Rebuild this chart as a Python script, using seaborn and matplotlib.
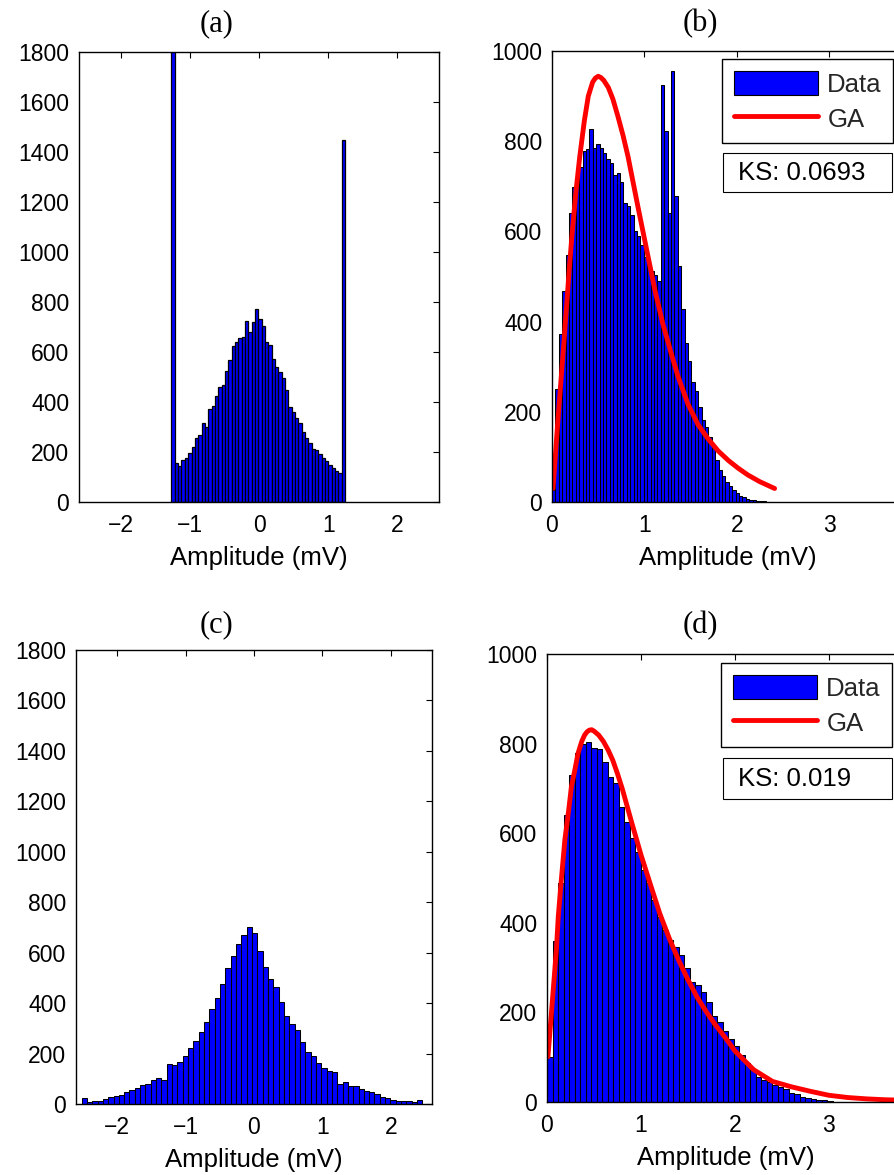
import numpy as np
import pandas as pd
import matplotlib
matplotlib.use("Agg")
import matplotlib.pyplot as plt
from matplotlib.patches import Rectangle, Patch
from matplotlib.lines import Line2D
import seaborn as sns

# ---------------- data ----------------
panel_titles = ["(a)", "(b)", "(c)", "(d)"]
x_label = "Amplitude (mV)"
legend_labels = ["Data", "GA"]

# (a) clipped signal histogram
a_first_center = -1.24
a_bin_width = 0.0482
a_counts = [1850, 155, 145, 170, 176, 195, 222, 257, 268, 318, 300, 372, 385,
            425, 460, 470, 525, 570, 625, 640, 658, 662, 724, 681, 721, 772,
            732, 705, 640, 628, 572, 540, 521, 495, 448, 380, 361, 337, 317,
            281, 257, 237, 212, 208, 191, 175, 165, 150, 138, 125, 115, 1450]
a_xticks = [-2, -1, 0, 1, 2]

# (b) amplitude histogram + GA fit
b_first_center = 0.018
b_bin_width = 0.0368
b_counts = [27, 250, 372, 468, 548, 640, 699, 715, 743, 779, 782, 827, 786,
            794, 784, 773, 760, 752, 725, 730, 710, 664, 657, 636, 600, 590,
            569, 544, 528, 512, 503, 491, 924, 822, 640, 956, 679, 523, 427,
            353, 313, 267, 246, 210, 182, 167, 145, 119, 93, 72, 58, 45, 35,
            27, 19, 13, 10, 7, 5, 4, 3, 2, 2, 1, 1]
b_fit_x = [0.011, 0.06, 0.12, 0.16, 0.19, 0.22, 0.26, 0.30, 0.35, 0.393,
           0.44, 0.47, 0.50, 0.53, 0.56, 0.61, 0.66, 0.715, 0.77, 0.823, 0.93,
           1.04, 1.116, 1.20, 1.297, 1.365, 1.47, 1.58, 1.69, 1.80, 1.91,
           2.015, 2.12, 2.25, 2.41]
b_fit_y = [30, 170, 330, 440, 525, 600, 690, 765, 845, 900, 931, 940, 944,
           941, 935, 919, 893, 854, 812, 766, 655, 544, 468, 395, 325, 278,
           218, 172, 140, 113, 92, 75, 60, 45, 30]
b_ks = "KS: 0.0693"

# (c) signal histogram
c_first_center = -2.48
c_bin_width = 0.0778
c_counts = [22, 9, 12, 13, 19, 26, 32, 36, 46, 56, 62, 75, 79, 95, 102, 95,
            157, 155, 168, 192, 223, 250, 287, 326, 375, 422, 474, 541, 587,
            633, 669, 700, 677, 607, 545, 497, 465, 403, 348, 319, 292, 245,
            205, 190, 164, 141, 131, 127, 78, 86, 71, 70, 61, 53, 46, 38, 26,
            22, 16, 13, 12, 11, 7, 17]

# (d) amplitude histogram + GA fit
d_first_center = 0.03
d_bin_width = 0.0585
d_counts = [101, 360, 488, 640, 730, 780, 800, 804, 790, 787, 760, 726, 711,
            659, 626, 589, 558, 518, 488, 451, 414, 384, 361, 345, 328, 298,
            268, 261, 246, 224, 193, 178, 158, 140, 125, 104, 87, 73, 56, 49,
            44, 39, 33, 28, 20, 17, 12, 8, 7, 5, 4, 3]
d_fit_x = [0.01, 0.04, 0.07, 0.10, 0.12, 0.15, 0.19, 0.23, 0.26, 0.30, 0.33,
           0.37, 0.40, 0.425, 0.45, 0.475, 0.50, 0.55, 0.60, 0.65, 0.70, 0.75,
           0.80, 0.90, 1.00, 1.10, 1.20, 1.30, 1.40, 1.50, 1.60, 1.70, 1.80,
           1.90, 2.00, 2.20, 2.40, 2.60, 2.80, 3.00, 3.20, 3.40, 3.60, 3.80]
d_fit_y = [101, 180, 260, 340, 414, 490, 585, 650, 704, 745, 778, 805, 819,
           826, 830, 831, 828, 819, 805, 786, 763, 733, 700, 625, 552, 486,
           421, 366, 317, 273, 233, 200, 170, 143, 114, 72, 46, 34, 24, 15,
           10, 7, 5, 4]
d_ks = "KS: 0.019"

# ---------------- style ----------------
sns.set_theme(style="white")
plt.rcParams['font.family'] = ['Liberation Sans', 'DejaVu Sans']
BAR_BLUE = (0.0, 0.0, 1.0)
FIT_RED = (1.0, 0.0, 0.0)
TICK_FS = 16.5
LABEL_FS = 18.5

W, H = 895, 1175
fig = plt.figure(figsize=(W / 100, H / 100), dpi=100)
fig.patch.set_facecolor('white')


def px_axes(left, top, right, bottom):
    return fig.add_axes([left / W, 1 - bottom / H, (right - left) / W, (bottom - top) / H])


def draw_hist(ax, first_center, width, counts, lw=0.75):
    counts = np.asarray(counts, dtype=float)
    centers = first_center + width * np.arange(len(counts))
    lo = centers[0] - width / 2
    hi = centers[-1] + width / 2
    df = pd.DataFrame({"amp": centers, "n": counts})
    sns.histplot(data=df, x="amp", weights="n", binwidth=width,
                 binrange=(lo, hi), common_bins=False, ax=ax,
                 color=BAR_BLUE, edgecolor='black', linewidth=lw, alpha=1.0,
                 stat='count')


def style_axes(ax, xlim, xticks, ylim, yticks):
    ax.set_xlim(*xlim)
    ax.set_ylim(*ylim)
    ax.set_xticks(xticks)
    ax.set_yticks(yticks)
    ax.set_xticklabels([str(t).replace('-', '\u2212') for t in xticks])
    ax.set_yticklabels([str(t) for t in yticks])
    ax.tick_params(direction='in', top=True, right=True, length=4, width=0.8,
                   labelsize=TICK_FS, colors='black', pad=7)
    ax.tick_params(axis='x', pad=9)
    for s in ax.spines.values():
        s.set_visible(True)
        s.set_color('black')
        s.set_linewidth(1.0)
    ax.set_ylabel('')
    ax.set_xlabel(x_label, fontsize=LABEL_FS, labelpad=6, color='black')
    ax.set_facecolor('white')
    ax.grid(False)


def add_legend_and_ks(ax, left, top, ks_top, ks_bottom, ks_text):
    handles = [Patch(facecolor=BAR_BLUE, edgecolor='black', linewidth=0.8),
               Line2D([0], [0], color=FIT_RED, lw=3.5)]
    leg = ax.legend(handles, legend_labels, loc='upper left',
                    bbox_to_anchor=(left / W, 1 - top / H),
                    bbox_transform=fig.transFigure, borderaxespad=0,
                    fontsize=LABEL_FS, frameon=True, fancybox=False,
                    handlelength=3.3, handleheight=1.1, handletextpad=0.35,
                    labelspacing=0.35, borderpad=0.45)
    fr = leg.get_frame()
    fr.set_edgecolor('black')
    fr.set_linewidth(1.0)
    fr.set_alpha(1)
    rect = Rectangle((723 / W, 1 - ks_bottom / H), (892 - 723) / W,
                     (ks_bottom - ks_top) / H, transform=fig.transFigure,
                     facecolor='white', edgecolor='black', linewidth=0.8)
    fig.add_artist(rect)
    fig.text(738 / W, 1 - (ks_top + ks_bottom) / 2 / H, ks_text,
             fontsize=LABEL_FS, va='center', ha='left', color='black')


# (a)
ax_a = px_axes(79, 52, 439, 502)
draw_hist(ax_a, a_first_center, a_bin_width, a_counts, lw=0.9)
style_axes(ax_a, (-2.6, 2.6), a_xticks, (0, 1800), list(range(0, 1801, 200)))

# (b)
ax_b = px_axes(552, 51, 903, 502)
draw_hist(ax_b, b_first_center, b_bin_width, b_counts)
sns.lineplot(x=b_fit_x, y=b_fit_y, ax=ax_b, color=FIT_RED, lw=3.5,
             sort=False, estimator=None)
style_axes(ax_b, (0, 3.8), [0, 1, 2, 3], (0, 1000), list(range(0, 1001, 200)))
add_legend_and_ks(ax_b, 722, 59, 153, 192, b_ks)

# (c)
ax_c = px_axes(76, 650, 432, 1104)
draw_hist(ax_c, c_first_center, c_bin_width, c_counts)
style_axes(ax_c, (-2.6, 2.6), a_xticks, (0, 1800), list(range(0, 1801, 200)))

# (d)
ax_d = px_axes(547, 654, 904, 1102)
draw_hist(ax_d, d_first_center, d_bin_width, d_counts)
sns.lineplot(x=d_fit_x, y=d_fit_y, ax=ax_d, color=FIT_RED, lw=3.5,
             sort=False, estimator=None)
style_axes(ax_d, (0, 3.8), [0, 1, 2, 3], (0, 1000), list(range(0, 1001, 200)))
add_legend_and_ks(ax_d, 721, 663, 758, 799, d_ks)

# panel titles (Times-like serif)
for txt, (xp, yp) in zip(panel_titles, [(217, 24), (700, 24), (217, 625), (700, 626)]):
    fig.text(xp / W, 1 - yp / H, txt, fontsize=22, ha='center', va='center',
             family=['Liberation Serif', 'DejaVu Serif'], color='black')

fig.savefig("out.png", dpi=100, facecolor='white')
